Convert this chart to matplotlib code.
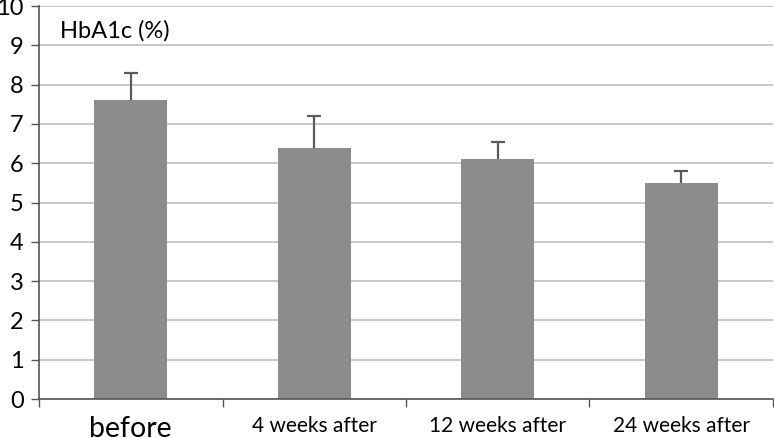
import matplotlib.pyplot as plt

labels = ['before', '4 weeks after', '12 weeks after', '24 weeks after']
hba1c = [7.6, 6.4, 6.1, 5.5]
sd_up = [0.7, 0.8, 0.45, 0.3]

plt.rcParams['font.family'] = ['Lato', 'DejaVu Sans']

fig = plt.figure(figsize=(7.74, 4.38), dpi=100)
ax = fig.add_axes([0.0504, 0.089, 0.9483, 0.897])

x = range(len(labels))
ax.bar(x, hba1c, width=0.4, color='#8c8c8c', zorder=2)
eb = ax.errorbar(x, hba1c, yerr=[[0] * len(sd_up), sd_up], fmt='none',
                 ecolor='#5a5a5a', elinewidth=1.6, capsize=5, capthick=1.6, zorder=3)
# only the upper cap is drawn
eb[1][0].set_visible(False)

ax.set_xlim(-0.5, 3.5)
ax.set_ylim(0, 10)
ax.set_yticks(range(0, 11))
ax.yaxis.grid(True, color='#c4c4c4', linewidth=1.3, zorder=0)
ax.set_axisbelow(True)

ax.set_xticks(list(x))
ax.set_xticklabels(labels)
ax.tick_params(axis='x', which='major', length=0, pad=12)
ax.set_xticks([-0.5, 0.5, 1.5, 2.5, 3.5], minor=True)
ax.tick_params(axis='x', which='minor', length=6, color='#555555', width=1)
ax.tick_params(axis='y', length=6, color='#555555', width=1, labelsize=17, pad=5)
for i, t in enumerate(ax.get_xticklabels()):
    t.set_fontsize(20.5 if i == 0 else 15)

for s in ['top', 'right']:
    ax.spines[s].set_visible(False)
for s in ['left', 'bottom']:
    ax.spines[s].set_color('#555555')
    ax.spines[s].set_linewidth(1.2)

ax.text(0.028, 0.965, 'HbA1c (%)', transform=ax.transAxes, fontsize=17,
        va='top', ha='left')

fig.savefig('out.png', dpi=100)
